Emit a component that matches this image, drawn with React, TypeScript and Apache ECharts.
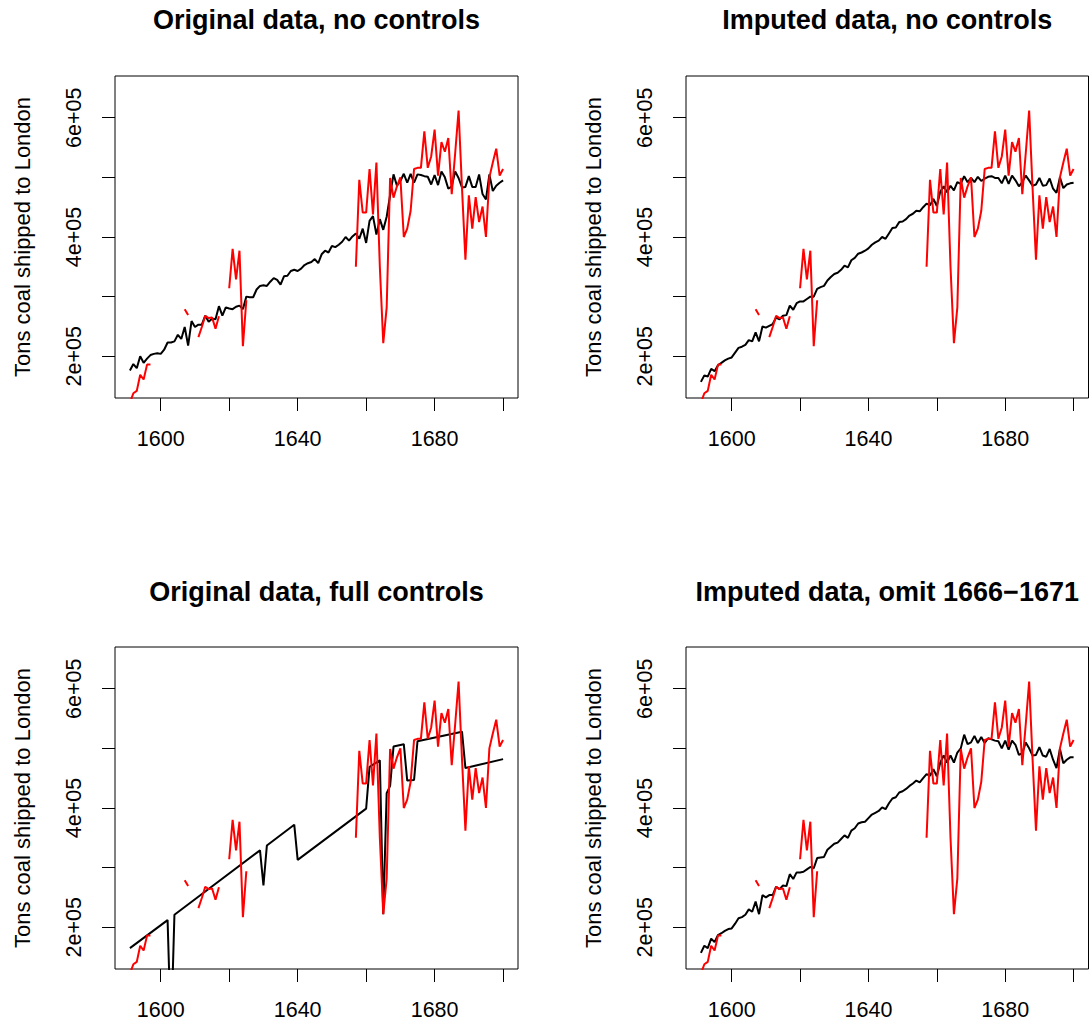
import React, { useEffect, useRef } from "react";
import * as echarts from "echarts";

// ---- data (tons of coal shipped to London), years 1591..1700 ----
const START_YEAR = 1591;
const END_YEAR = 1700;
const years: number[] = [];
for (let y = START_YEAR; y <= END_YEAR; y++) years.push(y);

// Original (observed) series, red; null = missing
const originalValues: (number | null)[] = [
  // 1591-1600
  122000, 138000, 142000, 169000, 161000, 186000, 186000, null, null, null,
  // 1601-1610
  null, null, null, null, null, null, 279000, 269000, null, null,
  // 1611-1620
  232000, 249000, 268000, 264000, 265000, 246000, 267000, null, null, 314000,
  // 1621-1630
  380000, 329000, 377000, 217000, 294000, null, null, null, null, null,
  // 1631-1640
  null, null, null, null, null, null, null, null, null, null,
  // 1641-1650
  null, null, null, null, null, null, null, null, null, null,
  // 1651-1660
  null, null, null, null, null, null, 350000, 496000, 441000, 441000,
  // 1661-1670
  514000, 438000, 525000, 350000, 222000, 282000, 499000, 466000, 485000, 500000,
  // 1671-1680
  400000, 414000, 444000, 514000, 516000, 516000, 577000, 516000, 535000, 580000,
  // 1681-1690
  503000, 559000, 543000, 566000, 472000, 540000, 612000, 482000, 362000, 470000,
  // 1691-1700
  414000, 467000, 425000, 451000, 400000, 500000, 525000, 548000, 503000, 514000,
];

// Fitted: original data, no controls
const fitOriginalNoControls: number[] = [
  176000, 187000, 180000, 200000, 189000, 196000, 202000, 204000, 205000, 204000,
  211000, 223000, 223000, 225000, 236000, 229000, 249000, 218000, 259000, 249000,
  253000, 253000, 268000, 258000, 263000, 262000, 284000, 268000, 282000, 280000,
  279000, 283000, 285000, 279000, 300000, 299000, 299000, 312000, 318000, 319000,
  318000, 325000, 331000, 328000, 320000, 334000, 335000, 343000, 345000, 343000,
  347000, 353000, 356000, 358000, 363000, 356000, 371000, 377000, 374000, 385000,
  383000, 387000, 392000, 400000, 394000, 401000, 406000, 397000, 414000, 390000,
  427000, 435000, 404000, 430000, 412000, 434000, 470000, 505000, 486000, 494000,
  506000, 491000, 506000, 491000, 505000, 504000, 502000, 501000, 488000, 504000,
  487000, 510000, 500000, 481000, 485000, 510000, 499000, 483000, 484000, 502000,
  484000, 484000, 505000, 472000, 463000, 505000, 477000, 486000, 491000, 495000,
];

// Fitted: imputed data, no controls
const fitImputedNoControls: number[] = [
  157000, 168000, 166000, 179000, 175000, 185000, 189000, 193000, 196000, 198000,
  206000, 214000, 216000, 219000, 227000, 225000, 240000, 225000, 250000, 248000,
  251000, 254000, 265000, 262000, 268000, 269000, 285000, 278000, 289000, 292000,
  292000, 296000, 300000, 300000, 313000, 316000, 318000, 327000, 333000, 338000,
  340000, 345000, 352000, 349000, 361000, 365000, 372000, 374000, 377000, 381000,
  387000, 391000, 394000, 400000, 397000, 406000, 415000, 416000, 425000, 426000,
  430000, 436000, 439000, 444000, 443000, 450000, 456000, 453000, 464000, 452000,
  476000, 485000, 475000, 486000, 478000, 492000, 489000, 502000, 492000, 499000,
  492000, 501000, 494000, 498000, 501000, 502000, 499000, 499000, 490000, 503000,
  489000, 503000, 495000, 485000, 492000, 503000, 495000, 486000, 488000, 499000,
  486000, 487000, 498000, 481000, 474000, 500000, 482000, 488000, 490000, 491000,
];

// Fitted: original data, full controls (line only changes direction at these years)
const fullControlsYears: number[] = [
  1591, 1602, 1603, 1604, 1629, 1630, 1631, 1639, 1640, 1660, 1661, 1664,
  1665, 1666, 1667, 1668, 1671, 1672, 1674, 1675, 1688, 1689, 1700,
];
const fullControlsValues: number[] = [
  165000, 212000, 20000, 221000, 329000, 270000, 337000, 372000, 313000, 399000, 469000, 480000,
  222000, 425000, 437000, 503000, 507000, 446000, 447000, 512000, 528000, 467000, 482000,
];

// Fitted: imputed data, omit 1666-1671
const fitImputedOmit: number[] = [
  157000, 169000, 165000, 181000, 175000, 187000, 190000, 194000, 197000, 198000,
  206000, 215000, 217000, 221000, 230000, 226000, 243000, 222000, 254000, 250000,
  254000, 254000, 268000, 264000, 270000, 269000, 289000, 281000, 292000, 292000,
  293000, 297000, 301000, 299000, 316000, 317000, 318000, 330000, 335000, 340000,
  342000, 348000, 354000, 350000, 362000, 366000, 374000, 376000, 377000, 383000,
  389000, 392000, 395000, 401000, 398000, 408000, 416000, 418000, 426000, 428000,
  432000, 437000, 441000, 446000, 443000, 450000, 457000, 454000, 465000, 453000,
  476000, 488000, 476000, 488000, 476000, 493000, 500000, 523000, 507000, 510000,
  521000, 509000, 519000, 509000, 517000, 515000, 513000, 512000, 500000, 513000,
  498000, 513000, 506000, 489000, 492000, 510000, 500000, 488000, 489000, 502000,
  488000, 486000, 499000, 481000, 467000, 499000, 475000, 481000, 485000, 485000,
];

const panelTitles: string[] = [
  "Original data, no controls",
  "Imputed data, no controls",
  "Original data, full controls",
  "Imputed data, omit 1666\u22121671",
];
const yAxisTitle = "Tons coal shipped to London";

const xTickValues = [1600, 1620, 1640, 1660, 1680, 1700];
const xLabelValues = [1600, 1640, 1680];
const yTickValues = [200000, 300000, 400000, 500000, 600000];
const yLabelValues = [200000, 400000, 600000];

// axis ranges (R: data range extended by 4%)
const X_MIN = 1586.64;
const X_MAX = 1704.36;
const Y_MIN = 130000;
const Y_MAX = 670000;

const FONT = '"Liberation Sans", Arial, Helvetica, sans-serif';

const grids = [
  { left: 115, top: 76, width: 403, height: 322 },
  { left: 686, top: 76, width: 402.5, height: 322 },
  { left: 115, top: 647, width: 403, height: 322 },
  { left: 686, top: 647, width: 402.5, height: 322 },
];

function pairs(vals: (number | null)[]) {
  return years.map((y, i) => [y, vals[i] == null ? "-" : vals[i]]);
}

export default function App() {
  const ref = useRef<HTMLDivElement>(null);

  useEffect(() => {
    if (!ref.current) return;
    const chart = echarts.init(ref.current, null, { renderer: "svg" });

    const blackData = [
      pairs(fitOriginalNoControls),
      pairs(fitImputedNoControls),
      fullControlsYears.map((y, i) => [y, fullControlsValues[i]]),
      pairs(fitImputedOmit),
    ];

    const option: any = {
      animation: false,
      backgroundColor: "#ffffff",
      grid: grids.map((g) => ({
        ...g,
        show: true,
        borderColor: "#000",
        borderWidth: 1,
        backgroundColor: "transparent",
        containLabel: false,
      })),
      xAxis: grids.map((_, i) => ({
        gridIndex: i,
        type: "value",
        min: X_MIN,
        max: X_MAX,
        axisLine: { show: false },
        splitLine: { show: false },
        axisTick: {
          show: true,
          length: 13,
          lineStyle: { color: "#000", width: 1 },
          customValues: xTickValues,
        },
        axisLabel: {
          customValues: xLabelValues,
          margin: 30,
          fontSize: 21.5,
          color: "#000",
          fontFamily: FONT,
          formatter: (v: number) => String(v),
        },
      })),
      yAxis: grids.map((_, i) => ({
        gridIndex: i,
        type: "value",
        min: Y_MIN,
        max: Y_MAX,
        name: yAxisTitle,
        nameLocation: "middle",
        nameGap: 82,
        nameRotate: 90,
        nameTextStyle: { fontSize: 22, color: "#000", fontFamily: FONT },
        axisLine: { show: false },
        splitLine: { show: false },
        axisTick: {
          show: true,
          length: 13,
          lineStyle: { color: "#000", width: 1 },
          customValues: yTickValues,
        },
        axisLabel: {
          customValues: yLabelValues,
          rotate: 90,
          margin: 30,
          fontSize: 21.5,
          color: "#000",
          fontFamily: FONT,
          formatter: (v: number) => `${Math.round(v / 100000)}e+05`,
        },
      })),
      series: [
        ...blackData.map((d, i) => ({
          type: "line",
          xAxisIndex: i,
          yAxisIndex: i,
          data: d,
          showSymbol: false,
          symbol: "none",
          connectNulls: false,
          lineStyle: { color: "#000", width: 2 },
          itemStyle: { color: "#000" },
          z: 2,
          silent: true,
        })),
        ...grids.map((_, i) => ({
          type: "line",
          xAxisIndex: i,
          yAxisIndex: i,
          data: pairs(originalValues),
          showSymbol: false,
          symbol: "none",
          connectNulls: false,
          lineStyle: { color: "#ff0000", width: 2 },
          itemStyle: { color: "#ff0000" },
          z: 3,
          silent: true,
        })),
      ],
      graphic: panelTitles.map((t, i) => ({
        type: "text",
        x: grids[i].left + grids[i].width / 2,
        y: i < 2 ? 20 : 591.5,
        style: {
          text: t,
          fontSize: 27,
          fontWeight: "bold",
          fontFamily: FONT,
          fill: "#000",
          align: "center",
          verticalAlign: "middle",
        },
      })),
    };

    chart.setOption(option);
    return () => chart.dispose();
  }, []);

  return (
    <div
      ref={ref}
      style={{ position: "absolute", left: 0, top: 0, width: 1089, height: 1027 }}
    />
  );
}
